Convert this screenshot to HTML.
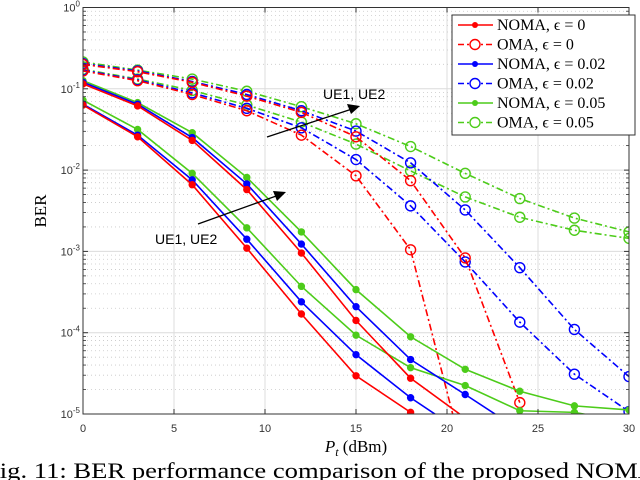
<!DOCTYPE html>
<html><head><meta charset="utf-8"><style>
html,body{margin:0;padding:0;background:#fff;width:640px;height:480px;overflow:hidden}
svg{display:block}
text{font-family:"Liberation Sans",sans-serif}
.serif{font-family:"Liberation Serif",serif}
</style></head><body>
<svg id="chart" width="640" height="480" xmlns="http://www.w3.org/2000/svg">
<g id="grid"></g>
<g id="series"></g>
<g id="axes"></g>
<g id="legend"></g>
<g>
<line x1="267" y1="137" x2="352" y2="109" stroke="#000" stroke-width="1.3"/>
<polygon points="360,106 347,104 351,114" fill="#000"/>
<text x="323" y="99" font-size="14">UE1, UE2</text>
</g>
<g>
<line x1="198" y1="224" x2="279" y2="195" stroke="#000" stroke-width="1.3"/>
<polygon points="286,192 273,191 277,201" fill="#000"/>
<text x="155" y="244" font-size="14">UE1, UE2</text>
</g>
<text class="serif" x="356" y="452" font-size="17" text-anchor="middle"><tspan font-style="italic">P</tspan><tspan font-style="italic" font-size="12" dy="4">t</tspan><tspan dy="-4"> (dBm)</tspan></text>
<text class="serif" x="46" y="211" font-size="17" text-anchor="middle" transform="rotate(-90 46 211)">BER</text>
<text class="serif" x="-15" y="478" font-size="22" textLength="672" lengthAdjust="spacingAndGlyphs">Fig. 11: BER performance comparison of the proposed NOMA</text>
</svg>
<script>
const xValues=[0,3,6,9,12,15,18,21,24,27,30];
const xTicks=[0,5,10,15,20,25,30];
const yDecades=[0,-1,-2,-3,-4,-5];
// log10(BER) values
const nomaE0ue1=[-0.94,-1.21,-1.635,-2.24,-3.02,-3.85,-4.56,-5.05];
const nomaE0ue2=[-1.20,-1.59,-2.18,-2.96,-3.77,-4.53,-4.98,-5.5];
const nomaE02ue1=[-0.92,-1.19,-1.60,-2.17,-2.91,-3.68,-4.33,-4.76,-5.2];
const nomaE02ue2=[-1.19,-1.57,-2.12,-2.85,-3.62,-4.27,-4.80,-5.25];
const nomaE05ue1=[-0.90,-1.17,-1.54,-2.09,-2.76,-3.47,-4.05,-4.45,-4.72,-4.90,-4.95];
const nomaE05ue2=[-1.14,-1.50,-2.04,-2.71,-3.43,-4.03,-4.43,-4.65,-4.96,-4.98,-5.1];
const omaE0ue1=[-0.70,-0.79,-0.92,-1.09,-1.29,-1.59,-2.13,-3.08,-4.86];
const omaE0ue2=[-0.78,-0.90,-1.07,-1.27,-1.57,-2.07,-2.98,-5.6];
const omaE02ue1=[-0.69,-0.78,-0.91,-1.07,-1.27,-1.52,-1.91,-2.49,-3.20,-3.96,-4.54];
const omaE02ue2=[-0.77,-0.89,-1.05,-1.24,-1.48,-1.87,-2.44,-3.13,-3.87,-4.51,-4.97];
const omaE05ue1=[-0.67,-0.77,-0.88,-1.03,-1.22,-1.43,-1.71,-2.04,-2.35,-2.59,-2.76];
const omaE05ue2=[-0.76,-0.88,-1.02,-1.20,-1.41,-1.68,-2.01,-2.33,-2.58,-2.74,-2.84];
const legendLabels=["NOMA, ϵ = 0","OMA, ϵ = 0","NOMA, ϵ = 0.02","OMA, ϵ = 0.02","NOMA, ϵ = 0.05","OMA, ϵ = 0.05"];

const L=83,R=629,T=7.5,B=414;
const sx=v=>L+(v-0)/(30-0)*(R-L);
const sy=lg=>T+(0-lg)/5*(B-T);
const NS="http://www.w3.org/2000/svg";
function mk(tag,parent,attrs){const e=document.createElementNS(NS,tag);for(const k in attrs)e.setAttribute(k,attrs[k]);parent.appendChild(e);return e;}
const grid=document.getElementById('grid'),axes=document.getElementById('axes'),ser=document.getElementById('series'),leg=document.getElementById('legend');
mk('rect',grid,{x:L,y:T,width:R-L,height:B-T,fill:'#fff'});
xTicks.forEach(t=>{const g=mk('line',grid,{x1:sx(t),x2:sx(t),y1:T,y2:B,stroke:'#dcdcdc','stroke-width':1});
});
yDecades.forEach(d=>{
 const g=mk('line',grid,{x1:L,x2:R,y1:sy(d),y2:sy(d),stroke:'#dcdcdc','stroke-width':1});
 
 if(d>-5){for(let m=2;m<=9;m++){const y=sy(d-1+Math.log10(m));
  const mg=mk('line',grid,{x1:L,x2:R,y1:y,y2:y,stroke:'#c8c8c8','stroke-width':0.8,'stroke-dasharray':'1,3'});
  
  mk('line',axes,{x1:L,x2:L+3,y1:y,y2:y,stroke:'#333','stroke-width':0.8});
  mk('line',axes,{x1:R-3,x2:R,y1:y,y2:y,stroke:'#333','stroke-width':0.8});}}
});
mk('rect',axes,{x:L,y:T,width:R-L,height:B-T,fill:'none',stroke:'#333','stroke-width':1});
xTicks.forEach(t=>{mk('line',axes,{x1:sx(t),x2:sx(t),y1:B,y2:B-5,stroke:'#333'});mk('line',axes,{x1:sx(t),x2:sx(t),y1:T,y2:T+5,stroke:'#333'});
 const tx=mk('text',axes,{x:sx(t),y:B+18,'font-size':11,'text-anchor':'middle',fill:'#333'});tx.textContent=t;
 });
yDecades.forEach(d=>{mk('line',axes,{x1:L,x2:L+5,y1:sy(d),y2:sy(d),stroke:'#333'});mk('line',axes,{x1:R-5,x2:R,y1:sy(d),y2:sy(d),stroke:'#333'});
 const tx=mk('text',axes,{x:L-3,y:sy(d)+4,'font-size':11,'text-anchor':'end',fill:'#333'});
 
 tx.appendChild(document.createTextNode('10'));const sp=mk('tspan',tx,{dy:-5,'font-size':8});sp.textContent=String(d);});
mk('clipPath',ser,{id:'clip'}).appendChild(document.createElementNS(NS,'rect'));
const cr=ser.querySelector('#clip rect');cr.setAttribute('x',L);cr.setAttribute('y',T);cr.setAttribute('width',R-L);cr.setAttribute('height',B-T+0.5);
const RED='#ff0000',BLUE='#0000ff',GRN='#4dcc1a';
const series=[
 [omaE05ue1,GRN,false,'oma-e005-ue1'],[omaE05ue2,GRN,false,'oma-e005-ue2'],
 [omaE02ue1,BLUE,false,'oma-e002-ue1'],[omaE02ue2,BLUE,false,'oma-e002-ue2'],
 [omaE0ue1,RED,false,'oma-e0-ue1'],[omaE0ue2,RED,false,'oma-e0-ue2'],
 [nomaE05ue1,GRN,true,'noma-e005-ue1'],[nomaE05ue2,GRN,true,'noma-e005-ue2'],
 [nomaE02ue1,BLUE,true,'noma-e002-ue1'],[nomaE02ue2,BLUE,true,'noma-e002-ue2'],
 [nomaE0ue1,RED,true,'noma-e0-ue1'],[nomaE0ue2,RED,true,'noma-e0-ue2']];
series.forEach(([vals,col,noma,name])=>{
 const g=mk('g',ser,{'clip-path':'url(#clip)'});
 
 const pts=vals.map((v,i)=>sx(xValues[i])+','+sy(v)).join(' ');
 const attrs={points:pts,fill:'none',stroke:col,'stroke-width':1.6};
 if(!noma)attrs['stroke-dasharray']='7,3,2,3';
 const pl=mk('polyline',g,attrs);
 
 vals.forEach((v,i)=>{if(v<-5.05)return;
  const c=noma?mk('circle',g,{cx:sx(xValues[i]),cy:sy(v),r:3.2,fill:col,stroke:col,'stroke-width':1}):
   mk('circle',g,{cx:sx(xValues[i]),cy:sy(v),r:5,fill:'none',stroke:col,'stroke-width':1.4});
  });
});
mk('rect',leg,{x:452,y:15,width:183,height:120,fill:'#fff',stroke:'#333','stroke-width':1});
const legCols=[RED,RED,BLUE,BLUE,GRN,GRN];
legendLabels.forEach((lab,i)=>{const y=25+i*19.5,noma=i%2===0;
 const g=mk('g',leg,{});
 const a={x1:458,x2:493,y1:y,y2:y,stroke:legCols[i],'stroke-width':1.6};if(!noma)a['stroke-dasharray']='6,3,2,3';
 mk('line',g,a);
 if(noma)mk('circle',g,{cx:475,cy:y,r:3,fill:legCols[i]});else mk('circle',g,{cx:475,cy:y,r:5,fill:'#fff',stroke:legCols[i],'stroke-width':1.4});
 const t=mk('text',g,{x:497,y:y+5,'font-size':16,class:'serif'});t.textContent=lab;});
</script>
</body></html>
